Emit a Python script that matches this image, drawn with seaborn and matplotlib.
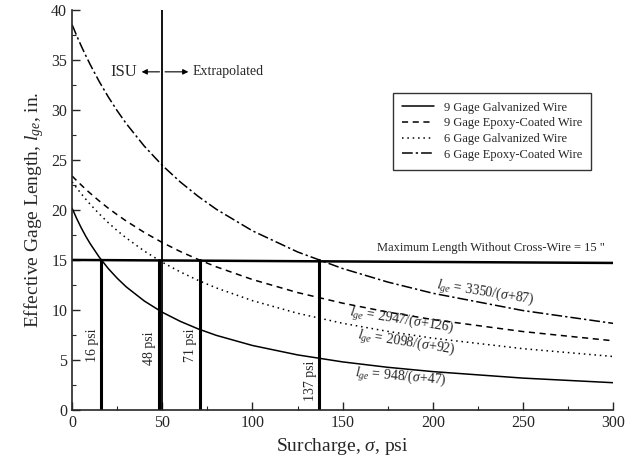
import seaborn as sns
import matplotlib.pyplot as plt
import pandas as pd
from matplotlib.ticker import MultipleLocator

# Values
surcharge = [0, 2.5, 5, 7.5, 10, 15, 20, 25, 30, 40, 50, 60, 70, 80, 100, 125, 150,
             175, 200, 250, 300]
galv_9 = [20.17, 19.15, 18.23, 17.39, 16.63, 15.29, 14.15, 13.17, 12.31, 10.90, 9.77,
          8.86, 8.10, 7.46, 6.45, 5.51, 4.81, 4.27, 3.84, 3.19, 2.73]
epoxy_9 = [23.39, 22.93, 22.50, 22.07, 21.67, 20.90, 20.18, 19.52, 18.89, 17.75, 16.74,
           15.84, 15.04, 14.31, 13.04, 11.74, 10.68, 9.79, 9.04, 7.84, 6.92]
galv_6 = [22.80, 22.20, 21.63, 21.09, 20.57, 19.61, 18.73, 17.93, 17.20, 15.89, 14.77,
          13.80, 12.95, 12.20, 10.93, 9.67, 8.67, 7.86, 7.18, 6.13, 5.35]
epoxy_6 = [38.51, 37.43, 36.41, 35.45, 34.54, 32.84, 31.31, 29.91, 28.63, 26.38, 24.45,
           22.79, 21.34, 20.06, 17.91, 15.80, 14.14, 12.79, 11.67, 9.94, 8.66]
series_names = ["9 Gage Galvanized Wire", "9 Gage Epoxy-Coated Wire",
                "6 Gage Galvanized Wire", "6 Gage Epoxy-Coated Wire"]
crossing_psi = [16, 48, 71, 137]
max_length = 15

rows = []
for name, vals in zip(series_names, [galv_9, epoxy_9, galv_6, epoxy_6]):
    for x, y in zip(surcharge, vals):
        rows.append({"Surcharge": x, "Length": y, "Wire": name})
df = pd.DataFrame(rows)

sns.set_style("ticks")
plt.rcParams["font.family"] = ["Liberation Serif", "DejaVu Serif"]
plt.rcParams["mathtext.fontset"] = "custom"
plt.rcParams["mathtext.rm"] = "Liberation Serif"
plt.rcParams["mathtext.it"] = "Liberation Serif:italic"

fig = plt.figure(figsize=(6.27, 4.67), dpi=100)
ax = fig.add_axes([0.115, 0.122, 0.863, 0.857])

sns.lineplot(data=df, x="Surcharge", y="Length", hue="Wire", style="Wire",
             palette=["black"] * 4,
             dashes=["", (4, 3), (1, 2.5), (7, 2, 1.5, 2)],
             linewidth=1.1, ax=ax, legend=True)

# max length line and vertical markers
ax.plot([0, 300], [max_length, max_length * 0.98], color="black", lw=1.8)
ax.axvline(50, color="black", lw=1.3)
for p in crossing_psi:
    ax.plot([p, p], [0, max_length], color="black", lw=2.2)

ax.text(11.5, 6.5, "16 psi", rotation=90, ha="center", va="center", fontsize=10)
ax.text(43, 6.2, "48 psi", rotation=90, ha="center", va="center", fontsize=10)
ax.text(65.5, 6.5, "71 psi", rotation=90, ha="center", va="center", fontsize=10)
ax.text(132, 2.9, "137 psi", rotation=90, ha="center", va="center", fontsize=10)

# ISU / Extrapolated
ax.annotate("", xy=(37, 33.8), xytext=(50, 33.8),
            arrowprops=dict(arrowstyle="-|>", color="black", lw=0.8, mutation_scale=8))
ax.annotate("", xy=(66, 33.8), xytext=(50, 33.8),
            arrowprops=dict(arrowstyle="-|>", color="black", lw=0.8, mutation_scale=8))
ax.text(36, 33.8, "ISU", ha="right", va="center", fontsize=12)
ax.text(67, 33.8, "Extrapolated", ha="left", va="center", fontsize=10)

ax.text(232, 15.6, 'Maximum Length Without Cross-Wire = 15 "', ha="center",
        va="bottom", fontsize=9)

eq_kw = dict(ha="left", va="center", fontsize=10, rotation_mode="anchor")
ax.text(202, 12.4, r"$\mathit{l}_{ge}$ = 3350/($\sigma$+87)", rotation=-9, **eq_kw)
ax.text(154, 9.75, r"$\mathit{l}_{ge}$ = 2947/($\sigma$+126)", rotation=-9, **eq_kw)
ax.text(158, 7.4, r"$\mathit{l}_{ge}$ = 2098/($\sigma$+92)", rotation=-9, **eq_kw)
ax.text(157, 3.6, r"$\mathit{l}_{ge}$ = 948/($\sigma$+47)", rotation=-5, **eq_kw)

ax.set_xlim(0, 300)
ax.set_ylim(0, 40)
ax.xaxis.set_major_locator(MultipleLocator(50))
ax.xaxis.set_minor_locator(MultipleLocator(25))
ax.yaxis.set_major_locator(MultipleLocator(5))
ax.yaxis.set_minor_locator(MultipleLocator(2.5))
ax.tick_params(which="major", direction="in", length=6, width=1, labelsize=11.5)
ax.tick_params(which="minor", direction="in", length=3, width=0.8)
sns.despine(ax=ax)
for s in ["left", "bottom"]:
    ax.spines[s].set_linewidth(1.2)

ax.set_xlabel(r"Surcharge, $\sigma$, psi", fontsize=14)
ax.set_ylabel(r"Effective Gage Length, $\mathit{l}_{ge}$, in.", fontsize=14)

leg = ax.legend(loc="upper left", bbox_to_anchor=(0.593, 0.7925), borderaxespad=0,
                fontsize=9, frameon=True, fancybox=False, edgecolor="black",
                handlelength=2.6, borderpad=0.7, labelspacing=0.3)
leg.get_frame().set_linewidth(1.0)

plt.savefig("out.png", dpi=100)
